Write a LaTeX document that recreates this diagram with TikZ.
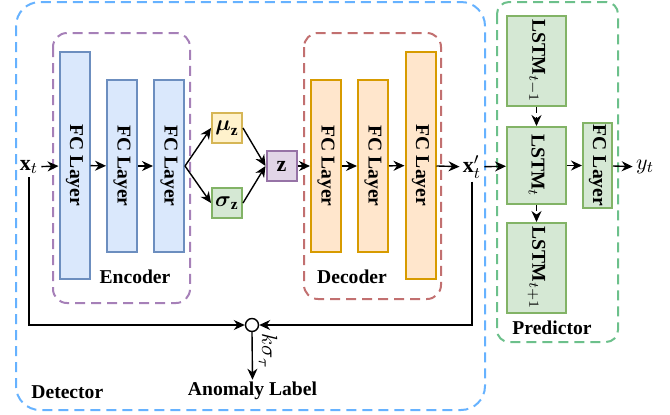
\documentclass[tikz,border=0pt]{standalone}
\usepackage{amsmath}
\usepackage{fontspec}
\setmainfont{Liberation Serif}[BoldFont={Liberation Serif Bold}]
\usetikzlibrary{arrows.meta}
\definecolor{detblue}{HTML}{66B2FF}
\definecolor{predgreen}{HTML}{6CC08B}
\definecolor{encpurple}{HTML}{A680B8}
\definecolor{decred}{HTML}{C27070}
\definecolor{encfill}{HTML}{DAE8FC}
\definecolor{encdraw}{HTML}{6C8EBF}
\definecolor{decfill}{HTML}{FFE6CC}
\definecolor{decdraw}{HTML}{D79B00}
\definecolor{mufill}{HTML}{FFF2CC}
\definecolor{mudraw}{HTML}{D6B656}
\definecolor{gfill}{HTML}{D5E8D4}
\definecolor{gdraw}{HTML}{82B366}
\definecolor{zfill}{HTML}{E1D5E7}
\definecolor{zdraw}{HTML}{9673A6}
\tikzset{
  txt/.style={font=\fontsize{9.8}{11}\selectfont\bfseries},
  mathtxt/.style={font=\fontsize{11}{12}\selectfont\bfseries},
  layerbox/.style={draw, line width=1pt, inner sep=0pt, minimum width=15pt, txt},
  enclayer/.style={layerbox, fill=encfill, draw=encdraw},
  declayer/.style={layerbox, fill=decfill, draw=decdraw},
  predbox/.style={layerbox, fill=gfill, draw=gdraw},
  smallbox/.style={draw, line width=1pt, inner sep=0pt, minimum size=15pt, mathtxt},
  container/.style={dashed, dash pattern=on 5pt off 3pt, line width=1pt},
  arr/.style={line width=0.7pt, -{Stealth[length=5.5pt,width=5pt]}},
}
\begin{document}
\begin{tikzpicture}[x=0.5pt,y=-0.5pt]
\useasboundingbox (0,0) rectangle (670,414);
% containers
\draw[container, detblue, rounded corners=12pt] (16,2) rectangle (485,410);
\draw[container, predgreen, rounded corners=6pt] (497,2) rectangle (618,342);
\draw[container, encpurple, rounded corners=7pt] (53,33) rectangle (190,303);
\draw[container, decred, rounded corners=7pt] (304,33) rectangle (441,299);
% encoder
\node[enclayer, minimum height=113.5pt] (e1) at (74.5,165.5) {\rotatebox{-90}{FC Layer}};
\node[enclayer, minimum height=86pt] (e2) at (122,166) {\rotatebox{-90}{FC Layer}};
\node[enclayer, minimum height=86pt] (e3) at (169,166) {\rotatebox{-90}{FC Layer}};
% latent
\node[smallbox, fill=mufill, draw=mudraw] (mu) at (227,128) {$\boldsymbol{\mu}_{\mathbf{z}}$};
\node[smallbox, fill=gfill, draw=gdraw] (sig) at (227,203) {$\boldsymbol{\sigma}_{\mathbf{z}}$};
\node[smallbox, fill=zfill, draw=zdraw] (z) at (281.5,166) {$\mathbf{z}$};
% decoder
\node[declayer, minimum height=86pt] (d1) at (326,166) {\rotatebox{-90}{FC Layer}};
\node[declayer, minimum height=86pt] (d2) at (373,166) {\rotatebox{-90}{FC Layer}};
\node[declayer, minimum height=113.5pt] (d3) at (420.5,165.5) {\rotatebox{-90}{FC Layer}};
% predictor
\node[predbox, minimum width=29.5pt, minimum height=45pt] (l1) at (536.5,61) {\rotatebox{-90}{LSTM$_{t-1}$}};
\node[predbox, minimum width=29.5pt, minimum height=38.5pt] (l2) at (536.5,165.5) {\rotatebox{-90}{LSTM$_{t}$}};
\node[predbox, minimum width=29.5pt, minimum height=45pt] (l3) at (536.5,268) {\rotatebox{-90}{LSTM$_{t+1}$}};
\node[predbox, minimum width=14.5pt, minimum height=42.5pt] (pfc) at (597.5,165.5) {\rotatebox{-90}{FC Layer}};
% io labels
\node[mathtxt, inner sep=1.5pt] (xt) at (29,167) {$\mathbf{x}_t$};
\node[mathtxt, inner sep=1.5pt] (xp) at (472,167) {$\mathbf{x}'_t$};
\node[mathtxt, inner sep=1.5pt] (yt) at (645,167) {$y_t$};
\node[draw, circle, line width=0.7pt, minimum size=6.5pt, inner sep=0pt] (circ) at (252,325) {};
\node[txt, inner sep=1pt] (al) at (252.5,391) {Anomaly Label};
\node[mathtxt, rotate=-90, inner sep=0pt] (ks) at (268,351) {$k\sigma_\tau$};
% section labels
\node[txt] (enc) at (135,277) {Encoder};
\node[txt] (dec) at (352,277) {Decoder};
\node[txt] (pred) at (552,328) {Predictor};
\node[txt, anchor=west, inner sep=0pt] (det) at (31,392) {Detector};
% connectors
\draw[arr] (xt) -- (e1);
\draw[arr] (e1) -- (e2);
\draw[arr] (e2) -- (e3);
\draw[arr] (e3.east) -- (mu.west);
\draw[arr] (e3.east) -- (sig.west);
\draw[arr] (mu.east) -- (z.west);
\draw[arr] (sig.east) -- (z.west);
\draw[arr] (z) -- (d1);
\draw[arr] (d1) -- (d2);
\draw[arr] (d2) -- (d3);
\draw[arr] (d3) -- (xp);
\draw[arr] (xp) -- (l2);
\draw[arr] (l2) -- (pfc);
\draw[arr] (pfc) -- (yt);
\draw[arr, dash pattern=on 3pt off 2pt] (l1) -- (l2);
\draw[arr, dash pattern=on 3pt off 2pt] (l2) -- (l3);
\draw[arr] (xt.south) |- (circ.west);
\draw[arr] (xp.south) |- (circ.east);
\draw[arr] (circ.south) -- (al.north);
\end{tikzpicture}
\end{document}
